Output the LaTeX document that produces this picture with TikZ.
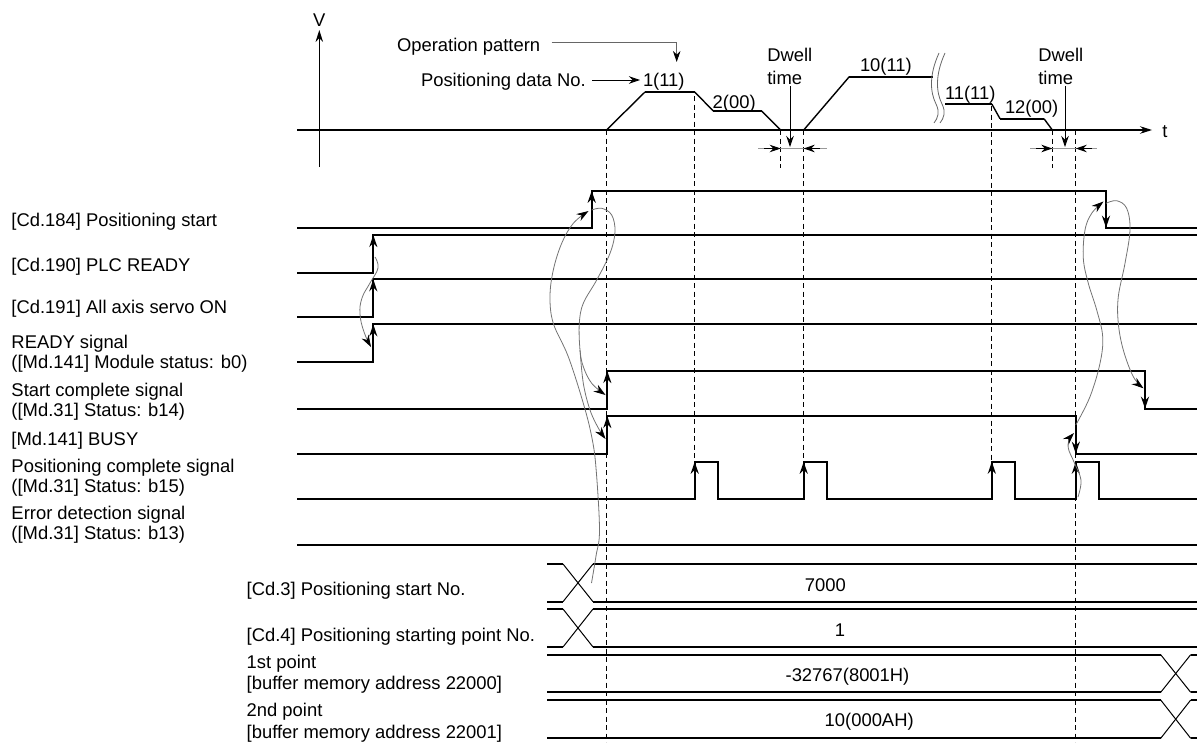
\documentclass[tikz,border=0pt]{standalone}
\usepackage{fontspec}
\setmainfont{Liberation Sans}
\usetikzlibrary{arrows.meta}
\begin{document}
\begin{tikzpicture}[x=1pt,y=-1pt,
  every node/.style={inner sep=0pt, outer sep=0pt, font=\fontsize{18.4}{21}\selectfont},
  lbl/.style={anchor=base west},
  val/.style={anchor=base},
  sig/.style={line width=2.3pt, line join=miter},
  bus/.style={line width=2.3pt},
  xline/.style={line width=1pt},
  edgearr/.style={line width=2.3pt, -{Stealth[length=12pt,width=8pt]}},
  guide/.style={dash pattern=on 5pt off 3.5pt, line width=0.9pt},
  cause/.style={line width=0.8pt, draw=black!55, -{Stealth[length=12pt,width=8pt,color=black]}},
  axisarr/.style={line width=1.1pt, -{Stealth[length=12pt,width=7.5pt]}},
  ramp/.style={line width=1.4pt},
  plat/.style={line width=2.3pt},
  dwellln/.style={line width=0.9pt, draw=black!40},
  thinarr/.style={line width=0.9pt, -{Stealth[length=11pt,width=7.5pt]}},
  brk/.style={line width=0.8pt, draw=black!60},
]
\useasboundingbox (0,0) rectangle (1197,744);

% ---------- guide dashed lines ----------
\draw[guide] (606.5,130) -- (606.5,742);
\draw[guide] (694.7,96) -- (694.7,461.7);
\draw[guide] (780.7,130) -- (780.7,168);
\draw[guide] (803.7,130) -- (803.7,461.7);
\draw[guide] (991.8,106) -- (991.8,461.7);
\draw[guide] (1052.3,130) -- (1052.3,168);
\draw[guide] (1075.8,130) -- (1075.8,742);

% ---------- velocity chart ----------
\draw[axisarr] (319.3,167) -- (319.3,30);
\draw[axisarr] (297,130) -- (1152,130);
\node (vlab) at (319.3,20) {V};
\node (tlab) at (1165,131.7) {t};

\draw[ramp] (606.5,130) -- (645,92);
\draw[plat] (645,92) -- (694.7,92);
\draw[ramp] (694.7,92) -- (713.3,111);
\draw[plat] (713.3,111) -- (761.7,111);
\draw[ramp] (761.7,111) -- (780.7,130);
\draw[ramp] (803.7,130) -- (849.3,76.7);
\draw[plat] (849.3,76.7) -- (932.7,76.7);
\draw[plat] (945,104) -- (991.8,104);
\draw[ramp] (991.8,104) -- (1000,118.7);
\draw[plat] (1000,118.7) -- (1044,118.7);
\draw[ramp] (1044,118.7) -- (1052.3,130);

\draw[brk] (939,53) .. controls (929,75) and (930,92) .. (936,104) .. controls (940,112) and (938,118) .. (934,123);
\draw[brk] (945,53) .. controls (935,75) and (936,92) .. (942,104) .. controls (946,112) and (944,118) .. (940,123);

\node[lbl] (oppat) at (397,51.4) {Operation pattern};
\draw[line width=0.8pt, draw=black!60, -{Stealth[length=11pt,width=7.5pt,color=black]}] (551.7,42.3) -- (676.7,42.3) -- (676.7,62);
\node[lbl] (pdno) at (421,86.4) {Positioning data No.};
\draw[thinarr] (592,80) -- (640,80);
\node[lbl] (p1) at (643,86.4) {1(11)};
\node[lbl] (p2) at (712.7,108) {2(00)};
\node[lbl] (p10) at (860,71.4) {10(11)};
\node[lbl] (p11) at (945,99.7) {11(11)};
\node[lbl] (p12) at (1005,113) {12(00)};

\node[lbl] (dw1a) at (767.3,61.7) {Dwell};
\node[lbl] (dw1b) at (767.3,84) {time};
\node[lbl] (dw2a) at (1038.3,61.7) {Dwell};
\node[lbl] (dw2b) at (1038.3,84) {time};

\draw[dwellln] (758.3,148.5) -- (826.7,148.5);
\draw[thinarr] (764,148.5) -- (780.7,148.5);
\draw[thinarr] (820,148.5) -- (803.7,148.5);
\draw[thinarr] (790,86) -- (790,147);
\draw[dwellln] (1030,148.5) -- (1097,148.5);
\draw[thinarr] (1036,148.5) -- (1052.3,148.5);
\draw[thinarr] (1092,148.5) -- (1075.8,148.5);
\draw[thinarr] (1065,86) -- (1065,147);

% ---------- signal labels ----------
\node[lbl] (l184) at (11.5,226.4) {[Cd.184] Positioning start};
\node[lbl] (l190) at (11.5,271.4) {[Cd.190] PLC READY};
\node[lbl] (l191) at (11.5,313) {[Cd.191] All axis servo ON};
\node[lbl] (lrdy1) at (11.5,348) {READY signal};
\node[lbl] (lrdy2) at (11.5,368) {([Md.141] Module status: b0)};
\node[lbl] (lsc1) at (11.5,396.7) {Start complete signal};
\node[lbl] (lsc2) at (11.5,416.7) {([Md.31] Status: b14)};
\node[lbl] (lbusy) at (11.5,445.4) {[Md.141] BUSY};
\node[lbl] (lpc1) at (11.5,472) {Positioning complete signal};
\node[lbl] (lpc2) at (11.5,492) {([Md.31] Status: b15)};
\node[lbl] (ler1) at (11.5,519.7) {Error detection signal};
\node[lbl] (ler2) at (11.5,539.7) {([Md.31] Status: b13)};
\node[lbl] (lcd3) at (246.7,595.7) {[Cd.3] Positioning start No.};
\node[lbl] (lcd4) at (246.7,641.4) {[Cd.4] Positioning starting point No.};
\node[lbl] (l1a) at (246.7,668) {1st point};
\node[lbl] (l1b) at (246.7,689.7) {[buffer memory address 22000]};
\node[lbl] (l2a) at (246.7,716.4) {2nd point};
\node[lbl] (l2b) at (246.7,738) {[buffer memory address 22001]};

% ---------- signals ----------
\draw[sig] (297,227.7) -- (591.7,227.7) -- (591.7,190.7) -- (1106,190.7) -- (1106,227.7) -- (1197,227.7);
\draw[edgearr] (591.7,227.7) -- (591.7,190.7);
\draw[edgearr] (1106,190.7) -- (1106,227.7);

\draw[sig] (297,272.7) -- (373.3,272.7) -- (373.3,235) -- (1197,235);
\draw[edgearr] (373.3,272.7) -- (373.3,235);
\draw[sig] (297,317.3) -- (373.3,317.3) -- (373.3,279.3) -- (1197,279.3);
\draw[edgearr] (373.3,317.3) -- (373.3,279.3);
\draw[sig] (297,361.7) -- (373.3,361.7) -- (373.3,324.3) -- (1197,324.3);
\draw[edgearr] (373.3,361.7) -- (373.3,324.3);

\draw[sig] (297,408.7) -- (607.3,408.7) -- (607.3,371) -- (1145,371) -- (1145,408.7) -- (1197,408.7);
\draw[edgearr] (607.3,408.7) -- (607.3,371);
\draw[edgearr] (1145,371) -- (1145,408.7);

\draw[sig] (297,453.7) -- (607.3,453.7) -- (607.3,416) -- (1075.8,416) -- (1075.8,453.7) -- (1197,453.7);
\draw[edgearr] (607.3,453.7) -- (607.3,416);
\draw[edgearr] (1075.8,416) -- (1075.8,453.7);

\draw[sig] (297,499.3) -- (694.7,499.3) -- (694.7,461.7) -- (718.3,461.7) -- (718.3,499.3)
  -- (803.7,499.3) -- (803.7,461.7) -- (827.3,461.7) -- (827.3,499.3)
  -- (991.8,499.3) -- (991.8,461.7) -- (1015,461.7) -- (1015,499.3)
  -- (1075.8,499.3) -- (1075.8,461.7) -- (1099,461.7) -- (1099,499.3) -- (1197,499.3);
\draw[edgearr] (694.7,499.3) -- (694.7,461.7);
\draw[edgearr] (803.7,499.3) -- (803.7,461.7);
\draw[edgearr] (991.8,499.3) -- (991.8,461.7);
\draw[edgearr] (1075.8,499.3) -- (1075.8,461.7);

\draw[sig] (297,545) -- (1197,545);

% ---------- buses ----------
\draw[bus] (547,564) -- (563,564);
\draw[bus] (547,601.7) -- (563,601.7);
\draw[xline] (563,564) -- (593,601.7);
\draw[xline] (563,601.7) -- (593,564);
\draw[bus] (593,564) -- (1197,564);
\draw[bus] (593,601.7) -- (1197,601.7);

\draw[bus] (547,609) -- (563,609);
\draw[bus] (547,647) -- (563,647);
\draw[xline] (563,609) -- (593,647);
\draw[xline] (563,647) -- (593,609);
\draw[bus] (593,609) -- (1197,609);
\draw[bus] (593,647) -- (1197,647);

\draw[bus] (547,654.7) -- (1160.7,654.7);
\draw[bus] (547,692.3) -- (1160.7,692.3);
\draw[xline] (1160.7,654.7) -- (1190.7,692.3);
\draw[xline] (1160.7,692.3) -- (1190.7,654.7);
\draw[bus] (1190.7,654.7) -- (1197,654.7);
\draw[bus] (1190.7,692.3) -- (1197,692.3);

\draw[bus] (547,700) -- (1160.7,700);
\draw[bus] (547,738.3) -- (1160.7,738.3);
\draw[xline] (1160.7,700) -- (1190.7,738.3);
\draw[xline] (1160.7,738.3) -- (1190.7,700);
\draw[bus] (1190.7,700) -- (1197,700);
\draw[bus] (1190.7,738.3) -- (1197,738.3);

\node[val] (v7000) at (825.3,591.7) {7000};
\node[val] (v1) at (840,636) {1};
\node[val] (v32767) at (847.5,681) {-32767(8001H)};
\node[val] (v10) at (869.2,726) {10(000AH)};

% ---------- cause arrows ----------
\draw[cause] plot[smooth, tension=0.7] coordinates {(375,257) (378,268) (370,283) (362,298) (360,314) (364,332) (371,347)};
\draw[cause] plot[smooth, tension=0.6] coordinates {(591.5,583) (596,556) (599.5,530) (596,468) (591.7,436.7) (583.3,403.3) (568.3,356.7) (553.3,323.3) (550,296.7) (553.3,270) (561.7,243.3) (573.3,223.3) (588.5,211)};
\draw[cause] plot[smooth, tension=0.6] coordinates {(591.7,210) (601.7,208.3) (611.7,215) (615,231.7) (610,253.3) (596.7,280) (583.3,303.3) (579.3,323.3) (580,350) (583.3,366.7) (591.7,383.3) (605.5,395)};
\draw[cause] plot[smooth, tension=0.6] coordinates {(580,350) (583.3,383.3) (590,410) (598.3,428) (605.5,439)};
\draw[cause] plot[smooth, tension=0.6] coordinates {(1075.8,425) (1090,396.7) (1100,363.3) (1102.7,336.7) (1096.7,310) (1088.3,283.3) (1083.3,258.3) (1085,230) (1091.7,213.3) (1103.5,201.5)};
\draw[cause] plot[smooth, tension=0.6] coordinates {(1106,203.3) (1116.7,200.7) (1126.7,208.3) (1130,230) (1125,263.3) (1118.3,296.7) (1118.3,323.3) (1123.3,350) (1133.3,376.7) (1143.5,388.3)};
\draw[cause] plot[smooth, tension=0.6] coordinates {(1078,497) (1081,480) (1074,462) (1068.5,449) (1069,440) (1074,433)};

\end{tikzpicture}
\end{document}
